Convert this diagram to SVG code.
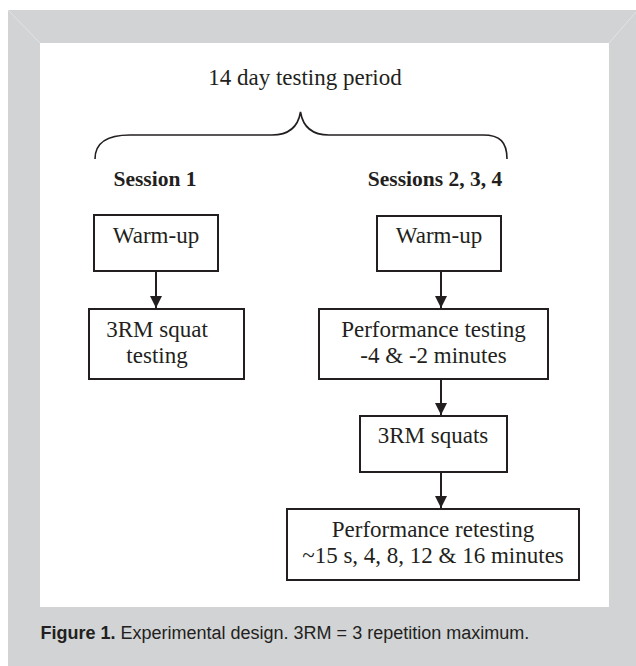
<svg xmlns="http://www.w3.org/2000/svg" width="636" height="666" viewBox="0 0 636 666">
  <style>
    .frame { fill: #d1d3d4; }
    .bevel { stroke: #e2e3e4; stroke-width: 1; fill: none; }
    .panel { fill: #ffffff; }
    .box { fill: #ffffff; stroke: #231f20; stroke-width: 2; }
    .label { font-family: "Liberation Serif", "Times New Roman", serif; font-size: 23px; fill: #231f20; text-anchor: middle; }
    .head { font-family: "Liberation Serif", "Times New Roman", serif; font-size: 21.5px; font-weight: bold; fill: #231f20; text-anchor: middle; }
    .edge { stroke: #231f20; stroke-width: 2; fill: none; }
    .brace { stroke: #231f20; stroke-width: 1.6; fill: none; }
    .caption { font-family: "Liberation Sans", Arial, sans-serif; font-size: 18px; fill: #231f20; }
  </style>
  <defs>
    <marker id="arrow" viewBox="0 0 12 12" refX="12" refY="6" markerWidth="12" markerHeight="12" markerUnits="userSpaceOnUse" orient="auto">
      <path d="M0,0 L12,6 L0,12 Z" fill="#231f20"/>
    </marker>
  </defs>

  <!-- mat frame with bevelled corners -->
  <rect class="frame" x="8" y="10" width="628" height="656"/>
  <line class="bevel" x1="8" y1="10" x2="40" y2="43"/>
  <line class="bevel" x1="636" y1="12" x2="609" y2="43"/>
  <rect class="panel" x="40" y="43" width="569" height="564"/>

  <!-- period heading and brace -->
  <g id="period">
    <text class="label" x="305" y="85">14 day testing period</text>
    <path class="brace" d="M95,159 C95,142 108,135 130,135 L272,135 C288,135 298,127 300.5,112 C303,127 313,135 329,135 L483,135 C500,135 507,142 507,159"/>
  </g>

  <g id="session1-title"><text class="head" x="155" y="186">Session 1</text></g>
  <g id="sessions234-title"><text class="head" x="435" y="186">Sessions 2, 3, 4</text></g>

  <!-- session 1 column -->
  <g id="s1-warmup">
    <rect class="box" x="94" y="215" width="124" height="56"/>
    <text class="label" x="156" y="243">Warm-up</text>
  </g>
  <g id="s1-3rm">
    <rect class="box" x="89" y="309" width="155" height="70"/>
    <text class="label" x="157" y="337">3RM squat</text>
    <text class="label" x="157" y="363">testing</text>
  </g>

  <!-- sessions 2-4 column -->
  <g id="s2-warmup">
    <rect class="box" x="377" y="216" width="124" height="55"/>
    <text class="label" x="439" y="243">Warm-up</text>
  </g>
  <g id="s2-perf">
    <rect class="box" x="319" y="309" width="229" height="70"/>
    <text class="label" x="433.5" y="337">Performance testing</text>
    <text class="label" x="433.5" y="363">-4 &amp; -2 minutes</text>
  </g>
  <g id="s2-squats">
    <rect class="box" x="360" y="416" width="147" height="56"/>
    <text class="label" x="433" y="443">3RM squats</text>
  </g>
  <g id="s2-retest">
    <rect class="box" x="287" y="509" width="292" height="71"/>
    <text class="label" x="433" y="537">Performance retesting</text>
    <text class="label" x="433" y="563">~15 s, 4, 8, 12 &amp; 16 minutes</text>
  </g>

  <!-- connectors -->
  <g id="connectors">
    <line class="edge" x1="156" y1="271" x2="156" y2="308" marker-end="url(#arrow)"/>
    <line class="edge" x1="441" y1="271" x2="441" y2="308" marker-end="url(#arrow)"/>
    <line class="edge" x1="441" y1="379" x2="441" y2="415" marker-end="url(#arrow)"/>
    <line class="edge" x1="441" y1="472" x2="441" y2="508" marker-end="url(#arrow)"/>
  </g>

  <!-- caption -->
  <text class="caption" x="40.5" y="639"><tspan font-weight="bold">Figure 1.</tspan> Experimental design. 3RM = 3 repetition maximum.</text>
</svg>
